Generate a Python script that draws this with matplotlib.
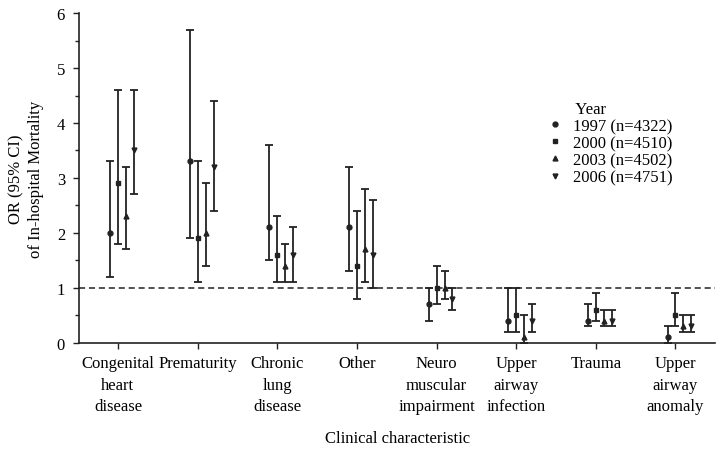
import numpy as np
import matplotlib
matplotlib.use("Agg")
import matplotlib.pyplot as plt
from matplotlib.lines import Line2D

plt.rcParams['font.family'] = ['Liberation Serif', 'DejaVu Serif']
plt.rcParams['font.size'] = 12

categories = ["Congenital\nheart\ndisease", "Prematurity", "Chronic\nlung\ndisease", "Other",
              "Neuro\nmuscular\nimpairment", "Upper\nairway\ninfection", "Trauma",
              "Upper\nairway\nanomaly"]

years = ["1997 (n=4322)", "2000 (n=4510)", "2003 (n=4502)", "2006 (n=4751)"]

or_1997 = [2.0, 3.3, 2.1, 2.1, 0.7, 0.4, 0.4, 0.1]
lo_1997 = [1.2, 1.9, 1.5, 1.3, 0.4, 0.2, 0.3, 0.0]
hi_1997 = [3.3, 5.7, 3.6, 3.2, 1.0, 1.0, 0.7, 0.3]

or_2000 = [2.9, 1.9, 1.6, 1.4, 1.0, 0.5, 0.6, 0.5]
lo_2000 = [1.8, 1.1, 1.1, 0.8, 0.7, 0.2, 0.4, 0.3]
hi_2000 = [4.6, 3.3, 2.3, 2.4, 1.4, 1.0, 0.9, 0.9]

or_2003 = [2.3, 2.0, 1.4, 1.7, 1.0, 0.1, 0.4, 0.3]
lo_2003 = [1.7, 1.4, 1.1, 1.1, 0.8, 0.0, 0.3, 0.2]
hi_2003 = [3.2, 2.9, 1.8, 2.8, 1.3, 0.5, 0.6, 0.5]

or_2006 = [3.5, 3.2, 1.6, 1.6, 0.8, 0.4, 0.4, 0.3]
lo_2006 = [2.7, 2.4, 1.1, 1.0, 0.6, 0.2, 0.3, 0.2]
hi_2006 = [4.6, 4.4, 2.1, 2.6, 1.0, 0.7, 0.6, 0.5]

series = [(or_1997, lo_1997, hi_1997), (or_2000, lo_2000, hi_2000),
          (or_2003, lo_2003, hi_2003), (or_2006, lo_2006, hi_2006)]
markers = ['o', 's', '^', 'v']
offsets = [-0.1, 0.0, 0.1, 0.2]
col = '#222222'

fig = plt.figure(figsize=(7.24, 4.52), dpi=100)
ax = fig.add_axes([0.109, 0.239, 0.879, 0.730])

x = np.arange(len(categories))
for (v, lo, hi), m, off in zip(series, markers, offsets):
    v = np.array(v); lo = np.array(lo); hi = np.array(hi)
    ax.errorbar(x + off, v, yerr=[v - lo, hi - v], fmt=m, color=col, ms=3.5,
                elinewidth=1.3, capsize=3, capthick=1.3)

ax.axhline(1, color=col, ls=(0, (4, 2.5)), lw=1.1)

ax.set_xlim(-0.49, 7.5)
ax.set_ylim(0, 6)
ax.set_xticks(x)
ax.set_xticklabels(categories, linespacing=1.45)
ax.set_yticks(range(7))
ax.set_yticks(np.arange(0.5, 6, 1), minor=True)
ax.tick_params(axis='both', direction='out', length=4, width=1, color=col)
ax.tick_params(axis='x', pad=5)
ax.tick_params(axis='y', pad=6)
ax.tick_params(axis='y', which='minor', length=3, width=1, color=col)
for s in ['top', 'right']:
    ax.spines[s].set_visible(False)
for s in ['left', 'bottom']:
    ax.spines[s].set_color(col)
    ax.spines[s].set_linewidth(1.2)

ax.set_ylabel("OR (95% CI)\nof In-hospital Mortality", linespacing=1.35, labelpad=9)
ax.set_xlabel("Clinical characteristic", labelpad=11)

handles = [Line2D([], [], marker=m, ls='none', color=col, ms=3.5) for m in markers]
leg = ax.legend(handles, years, title="       Year", frameon=False, loc='upper left',
                bbox_to_anchor=(0.735, 0.734), handlelength=1.0, handletextpad=0.6,
                labelspacing=0.07, borderpad=0, borderaxespad=0,
                fontsize=12, title_fontsize=12)
leg._legend_box.align = "left"

fig.savefig("out.png", dpi=100)
